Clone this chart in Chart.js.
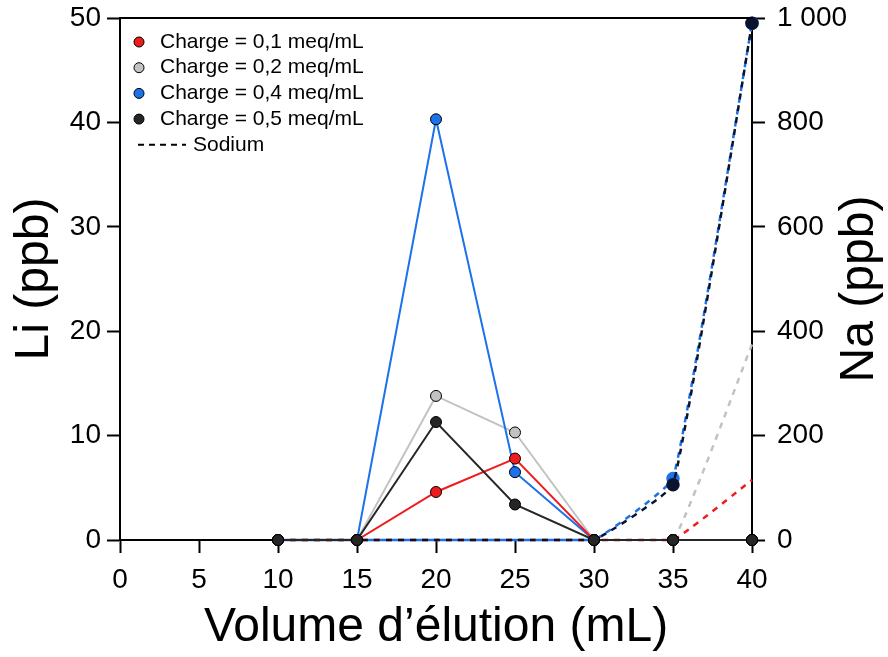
<!DOCTYPE html>
<html>
<head>
<meta charset="utf-8">
<script src="https://cdn.jsdelivr.net/npm/chart.js@4"></script>
<style>
html, body { margin: 0; padding: 0; background: #fff; }
</style>
</head>
<body>
<canvas id="chart" width="888" height="657"></canvas>
<script>
// volume d'elution (mL)
var volumes = [10, 15, 20, 25, 30, 35, 40];

// Li (ppb), axe de gauche
var li01 = [0, 0, 4.6, 7.8, 0, 0, 0];
var li02 = [0, 0, 13.8, 10.3, 0, 0, 0];
var li04 = [0, 0, 40.3, 6.5, 0, 0, 0];
var li05 = [0, 0, 11.3, 3.4, 0, 0, 0];

// Na (ppb), axe de droite
var na01 = [0, 0, 0, 0, 0, 0, 115];
var na02 = [0, 0, 0, 0, 0, 0, 375];
var na04 = [0, 0, 0, 0, 0, 118, 990];
var na05 = [0, 0, 0, 0, 0, 106, 990];

var legendLabels = ['Charge = 0,1 meq/mL', 'Charge = 0,2 meq/mL', 'Charge = 0,4 meq/mL', 'Charge = 0,5 meq/mL'];
var sodiumLabel = 'Sodium';

var red = '#f01c1c', grey = '#c2c2c2', blue = '#1c72ea', black = '#262626';
var FONT = '"Liberation Sans", Arial, Helvetica, sans-serif';

function pts(ys) {
    return volumes.map(function (v, i) { return { x: v, y: ys[i] }; });
}

function liSet(label, ys, col) {
    return {
        label: label,
        data: pts(ys),
        yAxisID: 'y',
        borderColor: col,
        backgroundColor: col,
        borderWidth: 2,
        pointRadius: 5.5,
        pointBorderColor: '#000',
        pointBorderWidth: 1,
        pointBackgroundColor: col,
        tension: 0,
        clip: false
    };
}

function naSet(ys, col, offset, showPts) {
    return {
        label: sodiumLabel,
        data: pts(ys),
        yAxisID: 'y1',
        borderColor: col,
        backgroundColor: col,
        borderWidth: 2.5,
        borderDash: [6, 6],
        borderDashOffset: offset,
        tension: 0.1,
        clip: false,
        pointRadius: showPts ? ys.map(function (v, i) { return i >= 5 ? 5.5 : 0; }) : 0,
        pointBorderColor: col,
        pointBackgroundColor: col
    };
}

var fixedLayout = {
    id: 'fixedLayout',
    afterDraw: function (chart) {
        var ctx = chart.ctx, a = chart.chartArea;
        ctx.save();
        // trait du haut
        ctx.strokeStyle = '#000';
        ctx.lineWidth = 2;
        ctx.beginPath();
        ctx.moveTo(a.left - 1, a.top);
        ctx.lineTo(a.right + 1, a.top);
        ctx.stroke();

        // titre axe droit (lu de bas en haut)
        ctx.fillStyle = '#000';
        ctx.font = '48px ' + FONT;
        ctx.textAlign = 'center';
        ctx.textBaseline = 'middle';
        ctx.translate(860, (a.top + a.bottom) / 2 + 10);
        ctx.rotate(-Math.PI / 2);
        ctx.fillText('Na (ppb)', 0, 0);
        ctx.restore();

        // legende
        var cols = [red, grey, blue, black];
        ctx.save();
        ctx.font = '21px ' + FONT;
        ctx.textBaseline = 'middle';
        ctx.fillStyle = '#000';
        for (var i = 0; i < legendLabels.length; i++) {
            var y = a.top + 24 + i * 25.7;
            ctx.beginPath();
            ctx.arc(a.left + 19, y, 5, 0, Math.PI * 2);
            ctx.fillStyle = cols[i];
            ctx.fill();
            ctx.lineWidth = 1;
            ctx.strokeStyle = '#000';
            ctx.stroke();
            ctx.fillStyle = '#000';
            ctx.fillText(legendLabels[i], a.left + 40, y);
        }
        var ys = a.top + 24 + 4 * 25.7;
        ctx.strokeStyle = '#000';
        ctx.lineWidth = 2;
        ctx.setLineDash([6, 5]);
        ctx.beginPath();
        ctx.moveTo(a.left + 18, ys);
        ctx.lineTo(a.left + 66, ys);
        ctx.stroke();
        ctx.setLineDash([]);
        ctx.fillText(sodiumLabel, a.left + 73, ys);
        ctx.restore();
    }
};

var axisCommon = {
    grid: { drawOnChartArea: false, drawTicks: true, tickLength: 13, color: '#000', tickWidth: 2 },
    border: { display: true, color: '#000', width: 2 }
};

function noPad(s) {
    s.paddingTop = 0;
    s.paddingBottom = 0;
    s.paddingLeft = 0;
    s.paddingRight = 0;
}

new Chart(document.getElementById('chart'), {
    type: 'line',
    data: {
        datasets: [
            liSet(legendLabels[3], li05, black),
            liSet(legendLabels[0], li01, red),
            liSet(legendLabels[2], li04, blue),
            liSet(legendLabels[1], li02, grey),
            naSet(na05, '#0a1330', 0, true),
            naSet(na04, blue, 6, true),
            naSet(na02, grey, 0, false),
            naSet(na01, red, 0, false)
        ]
    },
    options: {
        responsive: false,
        devicePixelRatio: 1,
        animation: false,
        layout: { padding: { top: 18, right: 0, bottom: 0, left: 0 } },
        plugins: {
            legend: { display: false },
            tooltip: { enabled: false }
        },
        scales: {
            x: {
                type: 'linear',
                position: 'bottom',
                min: 0,
                max: 40,
                ticks: { stepSize: 5, color: '#000', font: { family: FONT, size: 28 }, padding: 10 },
                grid: axisCommon.grid,
                border: axisCommon.border,
                title: { display: true, text: 'Volume d’élution (mL)', color: '#000', font: { family: FONT, size: 48 }, padding: { top: 0, bottom: 0 } },
                afterFit: function (s) { s.height = 117; noPad(s); }
            },
            y: {
                position: 'left',
                min: 0,
                max: 50,
                ticks: { stepSize: 10, color: '#000', font: { family: FONT, size: 28 }, padding: 6 },
                grid: axisCommon.grid,
                border: axisCommon.border,
                title: { display: true, text: 'Li (ppb)', color: '#000', font: { family: FONT, size: 48 }, padding: { top: 6, bottom: 0 } },
                afterFit: function (s) { s.width = 120; noPad(s); }
            },
            y1: {
                position: 'right',
                min: 0,
                max: 1000,
                ticks: {
                    stepSize: 200, color: '#000', font: { family: FONT, size: 28 }, padding: 12,
                    callback: function (v) { return String(v).replace(/\B(?=(\d{3})+(?!\d))/g, ' '); }
                },
                grid: axisCommon.grid,
                border: axisCommon.border,
                afterFit: function (s) { s.width = 136; noPad(s); }
            }
        }
    },
    plugins: [fixedLayout]
});
</script>
</body>
</html>
